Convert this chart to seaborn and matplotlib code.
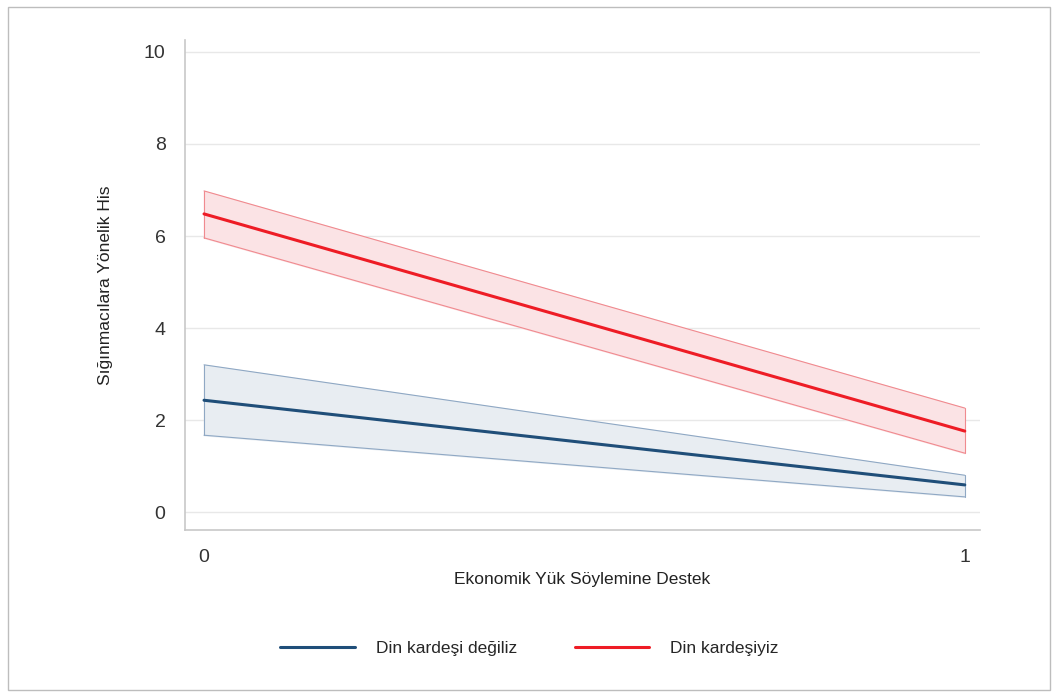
import matplotlib
matplotlib.use("Agg")
import matplotlib.pyplot as plt
import matplotlib.patches as mpatches
import seaborn as sns
import pandas as pd

# values
x_vals = [0, 1]
groups = ["Din kardeşi değiliz", "Din kardeşiyiz"]
mean_not = [2.43, 0.59]
lo_not = [1.67, 0.33]
hi_not = [3.20, 0.80]
mean_yes = [6.48, 1.76]
lo_yes = [5.96, 1.28]
hi_yes = [6.98, 2.26]
colors = {"Din kardeşi değiliz": "#1f4e79", "Din kardeşiyiz": "#ee1c25"}
fills = {"Din kardeşi değiliz": "#e8edf2", "Din kardeşiyiz": "#fbe3e5"}
edges = {"Din kardeşi değiliz": "#8fa8c4", "Din kardeşiyiz": "#f08a8f"}

df = pd.DataFrame({
    "x": x_vals * 2,
    "y": mean_not + mean_yes,
    "lo": lo_not + lo_yes,
    "hi": hi_not + hi_yes,
    "grup": [groups[0]] * 2 + [groups[1]] * 2,
})

sns.set_style("white")
plt.rcParams["font.family"] = ["Liberation Sans", "DejaVu Sans"]

fig = plt.figure(figsize=(10.59, 6.97), dpi=100)
ax = fig.add_axes([0.1747, 0.2396, 0.7507, 0.703])

# confidence bands
for g in groups:
    sub = df[df["grup"] == g]
    ax.fill_between(sub["x"], sub["lo"], sub["hi"], color=fills[g], zorder=1)
    ax.plot(sub["x"], sub["lo"], color=edges[g], lw=0.8, zorder=2)
    ax.plot(sub["x"], sub["hi"], color=edges[g], lw=0.8, zorder=2)
    ax.plot([0, 0], [sub["lo"].iloc[0], sub["hi"].iloc[0]], color=edges[g], lw=0.8, zorder=2)
    ax.plot([1, 1], [sub["lo"].iloc[1], sub["hi"].iloc[1]], color=edges[g], lw=0.8, zorder=2)

sns.lineplot(data=df, x="x", y="y", hue="grup", palette=colors, lw=2.2, ax=ax, zorder=3)

ax.set_xlim(-0.025, 1.02)
ax.set_ylim(-0.39, 10.26)
ax.set_yticks([0, 2, 4, 6, 8, 10])
ax.set_xticks([0, 1])
ax.grid(axis="y", color="#e8e8e8", lw=1)
ax.set_axisbelow(True)
for s in ["top", "right"]:
    ax.spines[s].set_visible(False)
for s in ["left", "bottom"]:
    ax.spines[s].set_color("#c8c8c8")
    ax.spines[s].set_linewidth(1.2)
ax.tick_params(axis="both", length=8, color="#e0e0e0", labelsize=14, labelcolor="#333333", pad=6)

ax.set_xlabel("Ekonomik Yük Söylemine Destek", fontsize=12.5, color="#222222", labelpad=4)
ax.set_ylabel("Sığınmacılara Yönelik His", fontsize=12.5, color="#222222", labelpad=22)

handles, labels = ax.get_legend_handles_labels()
ax.legend(handles, labels, loc="center", bbox_to_anchor=(0.5, 0.07), bbox_transform=fig.transFigure,
          ncol=2, frameon=False, fontsize=12.5, handlelength=4.3, handletextpad=1.2,
          columnspacing=3.3)

# outer frame
fig.patches.append(mpatches.Rectangle((8 / 1059, 7 / 697), 1042 / 1059, 683 / 697,
                                      transform=fig.transFigure, fill=False,
                                      edgecolor="#bdbdbd", lw=1))

fig.savefig("out.png", dpi=100)
